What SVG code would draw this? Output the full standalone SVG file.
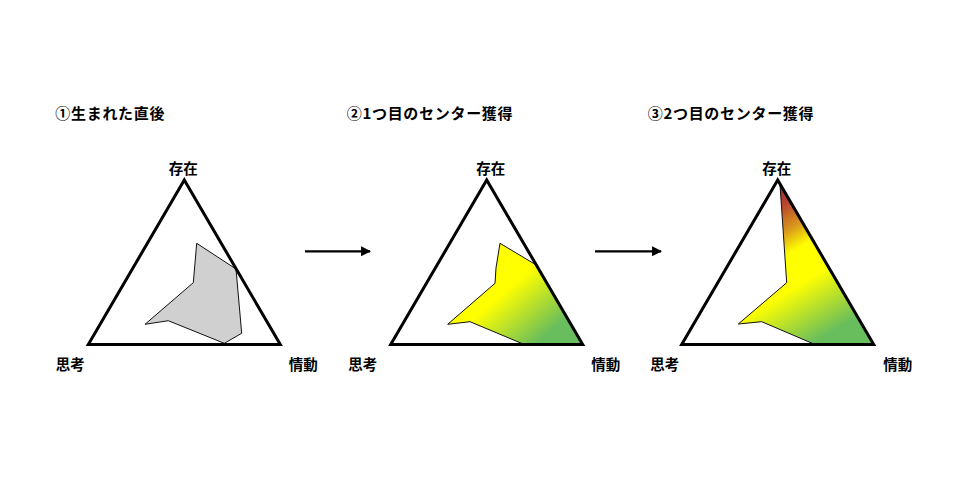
<svg xmlns="http://www.w3.org/2000/svg" width="980" height="498" viewBox="0 0 980 498">
<style>
.title{font-family:"Noto Sans CJK JP","Liberation Sans",sans-serif;font-size:15px;font-weight:bold;letter-spacing:0.7px;fill:#000}
.lbl{font-family:"Noto Sans CJK JP","Liberation Sans",sans-serif;font-size:14.5px;font-weight:bold;fill:#000}
.tri{fill:none;stroke:#000;stroke-width:3;stroke-linejoin:miter}
.shape{stroke:#111;stroke-width:1;stroke-linejoin:miter}
.conn{stroke:#000;stroke-width:2.2;fill:none}
</style>
<defs>
<marker id="ah" viewBox="0 0 10 10" refX="9" refY="5" markerWidth="4.5" markerHeight="4.5" orient="auto" markerUnits="strokeWidth">
<path d="M0,0 L10,5 L0,10 z" fill="#000"/>
</marker>
<linearGradient id="g2" gradientUnits="userSpaceOnUse" x1="104" y1="65" x2="189" y2="165">
<stop offset="0" stop-color="#ffff00"/>
<stop offset="0.32" stop-color="#ffff00"/>
<stop offset="0.78" stop-color="#68bd5c"/>
<stop offset="1" stop-color="#68bd5c"/>
</linearGradient>
<linearGradient id="g3" gradientUnits="userSpaceOnUse" x1="93" y1="0" x2="188" y2="160">
<stop offset="0" stop-color="#951a45"/>
<stop offset="0.14" stop-color="#b8452e"/>
<stop offset="0.27" stop-color="#d99a1c"/>
<stop offset="0.38" stop-color="#ffff00"/>
<stop offset="0.55" stop-color="#ffff00"/>
<stop offset="0.86" stop-color="#68bd5c"/>
<stop offset="1" stop-color="#68bd5c"/>
</linearGradient>
</defs>
<rect width="980" height="498" fill="#fff"/>

<g id="panel1" transform="translate(88.3,180)">
<text class="title" x="-33" y="-61">①生まれた直後</text>
<polygon class="shape" fill="#d0d0d0" points="108.4,63.3 147.7,89 153.4,153.3 136,163.3 80,140.7 56.7,144.3 105,102.7"/>
<polygon class="tri" points="96,0 0,164.5 192,164.5"/>
<text class="lbl" x="95" y="-6" text-anchor="middle">存在</text>
<text class="lbl" x="-18" y="189.5" text-anchor="middle">思考</text>
<text class="lbl" x="215" y="189.5" text-anchor="middle">情動</text>
</g>

<g id="panel2" transform="translate(390.7,180)">
<text class="title" x="-44" y="-61">②1つ目のセンター獲得</text>
<polygon class="shape" fill="url(#g2)" points="109.3,63.3 145.6,85 192,164.5 133.6,164.5 79.3,141.7 57,144.3 104.3,103.3 105.3,88"/>
<polygon class="tri" points="96,0 0,164.5 192,164.5"/>
<text class="lbl" x="100" y="-6" text-anchor="middle">存在</text>
<text class="lbl" x="-28" y="189.5" text-anchor="middle">思考</text>
<text class="lbl" x="215" y="189.5" text-anchor="middle">情動</text>
</g>

<g id="panel3" transform="translate(681.7,180)">
<text class="title" x="-34" y="-61">③2つ目のセンター獲得</text>
<polygon class="shape" fill="url(#g3)" points="96,0 192,164.5 133.3,164.5 80,141.7 56.6,144 105,102.7 98.3,5"/>
<polygon class="tri" points="96,0 0,164.5 192,164.5"/>
<text class="lbl" x="95" y="-6" text-anchor="middle">存在</text>
<text class="lbl" x="-17" y="189.5" text-anchor="middle">思考</text>
<text class="lbl" x="216" y="189.5" text-anchor="middle">情動</text>
</g>

<g id="connectors">
<line class="conn" x1="305" y1="251.3" x2="370" y2="251.3" marker-end="url(#ah)"/>
<line class="conn" x1="595" y1="251.3" x2="661" y2="251.3" marker-end="url(#ah)"/>
</g>
</svg>
